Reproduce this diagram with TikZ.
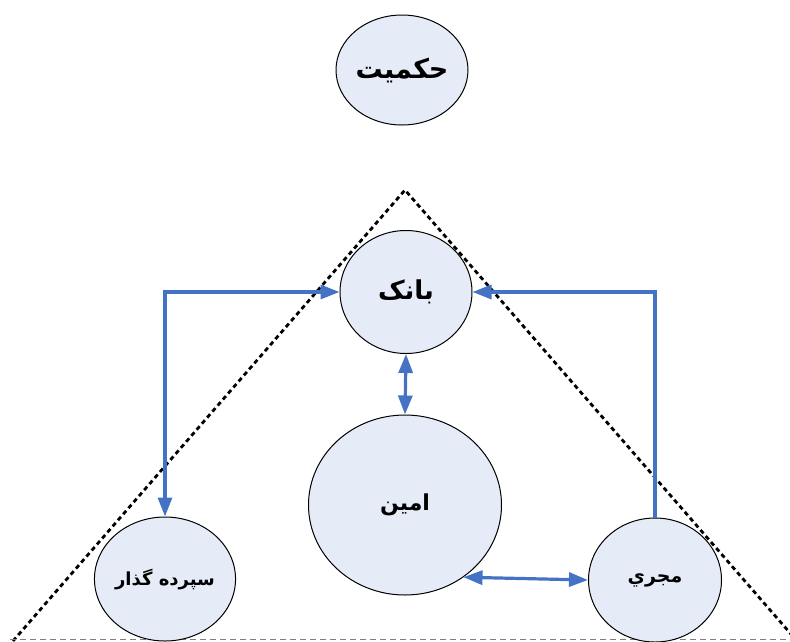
\documentclass[tikz,border=0pt]{standalone}
\usepackage{fontspec}
\usepackage{tikz}
\usepackage{xcolor}
\usetikzlibrary{shapes.geometric,arrows.meta}
\newfontfamily\arabicfont[Script=Arabic]{DejaVu Sans}
\TeXXeTstate=1
\definecolor{linkblue}{RGB}{68,114,196}
\definecolor{bubble}{RGB}{230,236,247}

\begin{document}
\begin{tikzpicture}[x=1pt,y=-1pt,
  link/.style={line width=3.2pt, linkblue, >={Triangle[length=19pt,width=14pt]}}]
\useasboundingbox (0,0) rectangle (790,641);
\clip (0,0) rectangle (790,641);

\draw[black, line width=2.8pt, dash pattern=on 4.5pt off 3.5pt] (13,641) -- (405,190) -- (797,641);
\draw[gray, line width=1pt, dash pattern=on 6pt off 4pt] (10,639) -- (790,639);

\begin{scope}[every node/.style={ellipse,draw,fill=bubble,line width=1pt,inner sep=0pt}]
\node[minimum width=132pt, minimum height=110pt] (0) at (402,70) {\arabicfont\bfseries\fontsize{27}{32}\selectfont\beginR حکمیت\endR};
\node[minimum width=132pt, minimum height=123pt] (1) at (406,292) {\arabicfont\bfseries\fontsize{26}{31}\selectfont\beginR بانک\endR};
\node[minimum width=193pt, minimum height=180pt] (2) at (405,505) {\arabicfont\bfseries\fontsize{22}{26}\selectfont\beginR امین\endR};
\node[minimum width=135pt, minimum height=124pt] (3) at (165,579) {\arabicfont\bfseries\fontsize{18}{22}\selectfont\beginR سپرده گذار\endR};
\node[minimum width=133pt, minimum height=124pt] (4) at (655,580) {\arabicfont\bfseries\fontsize{19}{23}\selectfont\beginR مجري\endR};
\end{scope}

\draw[link, <->] (3.north) |- (1.west);
\draw[link, ->] (4.north) |- (1.east);
\draw[link, <->] (1.south) -- (2.north);
\draw[link, <->] (2.-51) -- (4.west);

\end{tikzpicture}
\end{document}
